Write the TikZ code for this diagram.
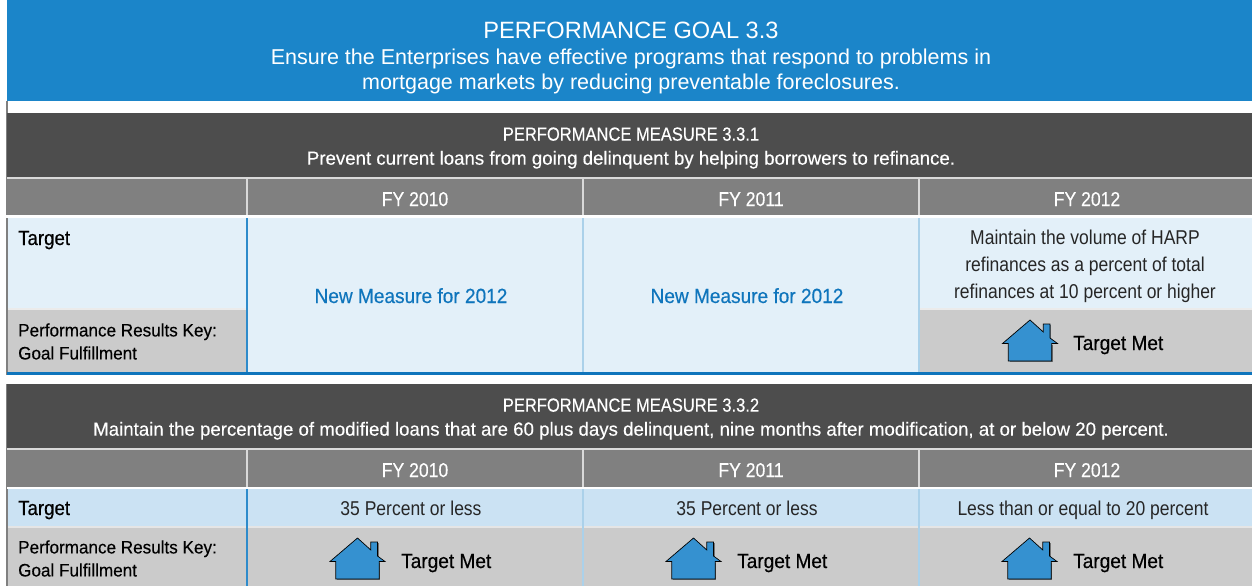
\documentclass[tikz,border=0pt]{standalone}
\usepackage{fontspec}
\setmainfont{Liberation Sans}
\newfontfamily\capsf[FakeStretch=0.87,FakeBold=0.25]{Liberation Sans}
\newfontfamily\leadf[FakeStretch=0.982,FakeBold=0.25]{Liberation Sans}
\newfontfamily\yearf[FakeStretch=0.88,FakeBold=0.25]{Liberation Sans}
\newfontfamily\labelf[FakeStretch=0.91,FakeBold=0.45]{Liberation Sans}
\newfontfamily\keyf[FakeStretch=0.95,FakeBold=0.35]{Liberation Sans}
\newfontfamily\newf[FakeStretch=0.93,FakeBold=0.4]{Liberation Sans}
\newfontfamily\metf[FakeStretch=0.93,FakeBold=0.45]{Liberation Sans}
\newfontfamily\bodyf[FakeStretch=0.875]{Liberation Sans}
\definecolor{bannerblue}{HTML}{1B85C9}
\definecolor{darkhead}{HTML}{4D4D4D}
\definecolor{midhead}{HTML}{808080}
\definecolor{paleblue}{HTML}{E3F0F9}
\definecolor{softblue}{HTML}{CBE2F3}
\definecolor{keygray}{HTML}{CBCBCB}
\definecolor{rule}{HTML}{2E8BCB}
\definecolor{housefill}{HTML}{3591D0}
\definecolor{linktxt}{HTML}{0F75BC}
\definecolor{edgegray}{HTML}{808080}
\tikzset{
 x=1pt,y=-1pt,
 band/.style={fill=#1,draw=none},
 title/.style={text=white,align=center,font=\fontsize{21.5}{25.5}\selectfont,inner sep=0},
 headtxt/.style={text=white,align=center,font=\fontsize{19}{24}\selectfont,inner sep=0},
 yeartxt/.style={text=white,anchor=base,font=\yearf\fontsize{20}{24}\selectfont,inner sep=0},
 bodytxt/.style={text=black!85,anchor=base,align=center,font=\bodyf\fontsize{20}{27}\selectfont,inner sep=0},
 newtxt/.style={text=linktxt,anchor=base,font=\newf\fontsize{20.5}{24}\selectfont,inner sep=0},
 labeltxt/.style={text=black,anchor=base west,inner sep=0,font=\labelf\fontsize{20.5}{24}\selectfont},
 keytxt/.style={text=black,anchor=west,align=left,inner sep=0,font=\keyf\fontsize{18}{23}\selectfont},
 mettxt/.style={text=black,anchor=base west,inner sep=0,font=\metf\fontsize{20.5}{24}\selectfont},
 pics/house/.style={code={
  \fill[black!55] (-20.5,1) rectangle (22.6,17.8);
  \fill[black!55] (20,-19) rectangle (20.9,-5);
  \draw[fill=housefill,draw=black,line width=.7pt,line join=miter]
    (-27.5,-.5) -- (0,-24) -- (13.3,-12) -- (13.3,-20) -- (20,-20) -- (20,-6) -- (27.5,-.5)
    -- (21.7,-.5) -- (21.7,17) -- (-21.7,17) -- (-21.7,-.5) -- cycle;
 }},
}
\begin{document}
\begin{tikzpicture}
\useasboundingbox (0,0) rectangle (1252,586);
\fill[white] (0,0) rectangle (1252,586);
% outer gray edge
\fill[edgegray] (6,101) rectangle (8,586);
% banner
\fill[band=bannerblue] (7,0) rectangle (1252,101);
\node[title] (goal) at (631,58) {\fontsize{23.6}{25.5}\selectfont PERFORMANCE GOAL 3.3\\Ensure the Enterprises have effective programs that respond to problems in\\mortgage markets by reducing preventable foreclosures.};
% gaps
\fill[white] (8,101) rectangle (1252,113);
% measure 1
\fill[band=darkhead] (7,113) rectangle (1252,177);
\node[headtxt] (m1) at (631,148) {{\capsf PERFORMANCE MEASURE 3.3.1}\\{\leadf Prevent current loans from going delinquent by helping borrowers to refinance.}};
\fill[band=midhead] (7,178) rectangle (1252,215);
\fill[black!15] (7,177) rectangle (1252,178.5);
\foreach \x in {247,583,919}{\fill[black!15] (\x-1,178) rectangle (\x+1,215);}
\node[yeartxt] (a1) at (415,206) {FY 2010};
\node[yeartxt] (a2) at (751,206) {FY 2011};
\node[yeartxt] (a3) at (1087,206) {FY 2012};
\fill[white] (0,215) rectangle (1252,218);
\fill[band=paleblue] (8,218) rectangle (1252,372);
\fill[band=keygray] (8,310) rectangle (246,372);
\fill[band=keygray] (920,310) rectangle (1252,372);
\fill[black!8] (8,308) rectangle (246,310);
\fill[black!8] (920,308) rectangle (1252,310);
\fill[rule] (246,218) rectangle (248,372);
\fill[rule!40!white] (582,218) rectangle (584,372);
\fill[rule!40!white] (918,218) rectangle (920,372);
\fill[linktxt] (7,372) rectangle (1252,374.5);
\node[labeltxt] (t1) at (18,245) {Target};
\node[keytxt] (k1) at (18,341.5) {Performance Results Key:\\Goal Fulfillment};
\node[newtxt] (n1) at (411,303) {New Measure for 2012};
\node[newtxt] (n2) at (747,303) {New Measure for 2012};
\node[bodytxt,anchor=center] (b1) at (1085,266.5) {Maintain the volume of HARP\\refinances as a percent of total\\refinances at 10 percent or higher};
\pic at (1030,344) {house};
\node[mettxt] (g1) at (1073,350) {Target Met};
% measure 2
\fill[band=darkhead] (7,384) rectangle (1252,448);
\fill[white] (0,374.5) rectangle (1252,384);
\node[headtxt] (m2) at (631,419) {{\capsf PERFORMANCE MEASURE 3.3.2}\\{\leadf Maintain the percentage of modified loans that are 60 plus days delinquent, nine months after modification, at or below 20 percent.}};
\fill[band=midhead] (7,449) rectangle (1252,487);
\fill[black!15] (7,448) rectangle (1252,449.5);
\foreach \x in {247,583,919}{\fill[black!15] (\x-1,449) rectangle (\x+1,487);}
\node[yeartxt] (c1) at (415,477) {FY 2010};
\node[yeartxt] (c2) at (751,477) {FY 2011};
\node[yeartxt] (c3) at (1087,477) {FY 2012};
\fill[white] (7,487) rectangle (1252,489);
\fill[band=softblue] (8,489) rectangle (1252,526);
\fill[white!90!black] (8,526) rectangle (1252,528);
\fill[band=keygray] (8,528) rectangle (1252,586);
\fill[rule] (246,489) rectangle (248,586);
\fill[rule!40!white] (582,489) rectangle (584,586);
\fill[rule!40!white] (918,489) rectangle (920,586);
\node[labeltxt] (t2) at (18,515) {Target};
\node[bodytxt] (d1) at (411,515.5) {35 Percent or less};
\node[bodytxt] (d2) at (747,515.5) {35 Percent or less};
\node[bodytxt] (d3) at (1083,515.5) {Less than or equal to 20 percent};
\node[keytxt] (k2) at (18,558.5) {Performance Results Key:\\Goal Fulfillment};
\pic at (357.5,562) {house};
\pic at (693.5,562) {house};
\pic at (1029.5,562) {house};
\node[mettxt] (g2) at (401,568) {Target Met};
\node[mettxt] (g3) at (737,568) {Target Met};
\node[mettxt] (g4) at (1073,568) {Target Met};
\end{tikzpicture}
\end{document}
